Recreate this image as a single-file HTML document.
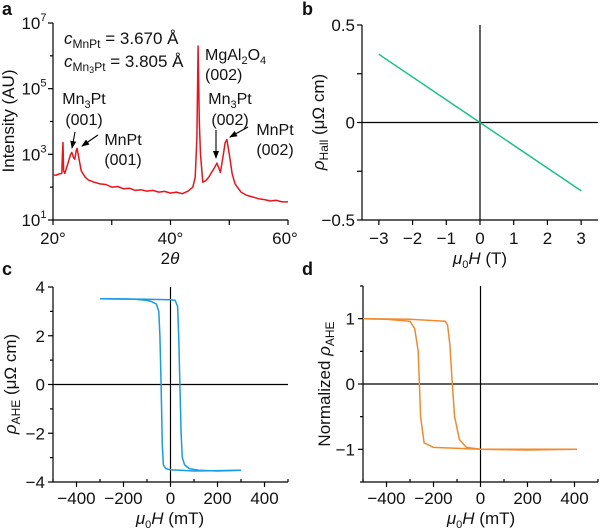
<!DOCTYPE html>
<html><head><meta charset="utf-8"><style>
body{margin:0;background:#fff;}
svg{display:block;font-family:"Liberation Sans",Arial,sans-serif;}
</style></head><body>
<svg id="fig" width="600" height="530" viewBox="0 0 600 530"></svg>
<script>
// Panel a data (2theta, log10 intensity)
const xrdAngle=[20,20.5,21,21.5,21.6,21.7,21.8,22,22.5,23,23.2,23.5,23.7,24,24.1,24.4,24.8,25.5,26,27,28,29,30,31,32,33,34,35,36,37,38,39,40,41,42,43,43.8,44.2,44.5,44.7,44.9,45.1,45.5,46,46.5,47,47.5,47.9,48.2,48.5,49,49.3,49.6,50,50.5,51,52,53,54,55,56,57,58,59,60];
const xrdLog=[2.38,2.36,2.4,2.42,3.0,3.36,2.5,2.42,2.7,3.0,3.06,2.9,2.85,3.15,3.18,2.9,2.5,2.3,2.22,2.15,2.1,2.08,2.0,2.02,1.95,1.97,1.9,1.92,1.88,1.9,1.85,1.87,1.82,1.85,1.8,1.88,2.0,2.3,3.5,6.3,4.0,3.0,2.15,2.2,2.3,2.45,2.6,2.73,2.6,2.45,3.0,3.35,3.45,3.0,2.4,2.1,1.85,1.75,1.7,1.65,1.62,1.58,1.6,1.55,1.55];
// Panel b
const hallH=[-3,3];
const hallRho=[0.35,-0.35];
// Panel c
const cUpH=[-300,-100,0,20,30,35,40,45,50,60,80,120,200,300];
const cUpR=[3.52,3.5,3.48,3.45,3.2,2,0,-2,-3,-3.3,-3.45,-3.52,-3.55,-3.52];
const cDnH=[300,100,0,-20,-30,-35,-40,-45,-50,-60,-80,-100,-150,-300];
const cDnR=[-3.52,-3.55,-3.5,-3.45,-3.3,-2.5,0,2,3,3.3,3.4,3.45,3.5,3.52];
// Panel d
const dUpH=[-500,-300,-150,-140,-130,-120,-110,-90,-60,0,200,410];
const dUpR=[1,0.99,0.96,0.9,0.6,0,-0.5,-0.85,-0.97,-1,-1.01,-1];
const dDnH=[410,0,-200,-240,-255,-260,-265,-280,-300,-400,-500];
const dDnR=[-1,-1,-0.97,-0.9,-0.5,0,0.5,0.85,0.96,0.99,1];

const S="http://www.w3.org/2000/svg",svg=document.getElementById('fig');
function el(t,a,p){const e=document.createElementNS(S,t);for(const k in a)e.setAttribute(k,a[k]);(p||svg).appendChild(e);return e;}
function lin(d0,d1,r0,r1){return v=>r0+(v-d0)/(d1-d0)*(r1-r0);}
function txt(x,y,s,anchor,size,name,extra){const t=el('text',Object.assign({x:x,y:y,'text-anchor':anchor||'middle','font-size':size||17,fill:'#111'},extra||{}));t.innerHTML=s;return t;}
function line(x1,y1,x2,y2,name,w){const l=el('line',{x1:x1,y1:y1,x2:x2,y2:y2,stroke:'#000','stroke-width':w||1.2});return l;}
function path(xs,ys,fx,fy,col,name){let d='';for(let i=0;i<xs.length;i++)d+=(i?'L':'M')+fx(xs[i]).toFixed(1)+','+fy(ys[i]).toFixed(1);const p=el('path',{d:d,fill:'none',stroke:col,'stroke-width':1.5,'stroke-linejoin':'round'});return p;}
const TS=17;

// ---------- Panel a ----------
const ax=lin(20,60,53,288), ay=lin(1,7,220,23);
txt(2,15,'a','start',18,'panel-a-label',{'font-weight':'bold'});
line(53,23,53,220,'a-y-axis');line(53,220,288,220,'a-x-axis');
[1,2,3,4,5,6,7].forEach(v=>{line(53,ay(v),v%2?48:50,ay(v),'a-y-tick');});
[1,3,5,7].forEach(v=>{txt(34,ay(v)+6,'10<tspan font-size="11" dy="-8">'+v+'</tspan>','middle',TS,'a-y-tick-label');});
[20,30,40,50,60].forEach(v=>{line(ax(v),220,ax(v),225,'a-x-tick');});
[20,40,60].forEach(v=>{txt(ax(v)+(v==60?-3:0),244,v+'°','middle',TS,'a-x-tick-label');});
txt(170,264,'2<tspan font-style="italic">θ</tspan>','middle',TS,'a-x-axis-title');
txt(14,121,'Intensity (AU)','middle',TS,'a-y-axis-title',{transform:'rotate(-90 14 121)'});
path(xrdAngle,xrdLog,ax,ay,'#e8141c','xrd-series');
txt(64,44,'<tspan font-style="italic">c</tspan><tspan font-size="12" dy="4">MnPt</tspan><tspan dy="-4"> = 3.670 Å</tspan>','start',17,'lattice-mnpt');
txt(64,67,'<tspan font-style="italic">c</tspan><tspan font-size="12" dy="4">Mn</tspan><tspan font-size="9" dy="2">3</tspan><tspan font-size="12" dy="-2">Pt</tspan><tspan dy="-4"> = 3.805 Å</tspan>','start',17,'lattice-mn3pt');
txt(205,60,'MgAl<tspan font-size="11" dy="4">2</tspan><tspan dy="-4">O</tspan><tspan font-size="11" dy="4">4</tspan>','start',16,'label-mgal2o4');
txt(205,80,'(002)','start',16,'label-mgal2o4-002');
txt(84,104,'Mn<tspan font-size="11" dy="4">3</tspan><tspan dy="-4">Pt</tspan>','middle',16,'label-mn3pt-001');
txt(84,125,'(001)','middle',16,'label-mn3pt-001-idx');
txt(123,145,'MnPt','middle',16,'label-mnpt-001');
txt(123,165,'(001)','middle',16,'label-mnpt-001-idx');
txt(230,104,'Mn<tspan font-size="11" dy="4">3</tspan><tspan dy="-4">Pt</tspan>','middle',16,'label-mn3pt-002');
txt(230,125,'(002)','middle',16,'label-mn3pt-002-idx');
txt(275,135,'MnPt','middle',16,'label-mnpt-002');
txt(275,155,'(002)','middle',16,'label-mnpt-002-idx');
const defs=el('defs',{});const m=el('marker',{id:'ar',markerWidth:8,markerHeight:8,refX:7,refY:4,orient:'auto',markerUnits:'userSpaceOnUse'},defs);el('path',{d:'M0,1L8,4L0,7z',fill:'#000'},m);
[[75,132,72,148],[98,135,82,146],[216,130,216,158],[248,127,230,137]].forEach(a=>{const l=line(a[0],a[1],a[2],a[3],'peak-arrow',1.1);l.setAttribute('marker-end','url(#ar)');});

// ---------- Panel b ----------
const bx=lin(-3.5,3.5,362,598), by=lin(-0.5,0.5,220,25);
txt(302,15,'b','start',18,'panel-b-label',{'font-weight':'bold'});
line(362,25,362,220,'b-y-axis');line(362,220,598,220,'b-x-axis');
line(bx(0),25,bx(0),220,'b-zero-vertical');line(362,by(0),598,by(0),'b-zero-horizontal');
[-0.5,-0.25,0,0.25,0.5].forEach(v=>line(357,by(v),362,by(v),'b-y-tick'));
[[0.5,'0.5'],[0,'0'],[-0.5,'−0.5']].forEach(v=>txt(355,by(v[0])+6,v[1],'end',TS,'b-y-tick-label'));
[-3,-2,-1,0,1,2,3].forEach(v=>{line(bx(v),220,bx(v),225,'b-x-tick');txt(bx(v),244,(v<0?'−':'')+Math.abs(v),'middle',TS,'b-x-tick-label');});
txt(480,264,'<tspan font-style="italic">μ</tspan><tspan font-size="11" dy="4">0</tspan><tspan dy="-4" font-style="italic">H</tspan> (T)','middle',TS,'b-x-axis-title');
txt(324,122,'<tspan font-style="italic">ρ</tspan><tspan font-size="12" dy="4">Hall</tspan><tspan dy="-4"> (μΩ cm)</tspan>','middle',TS,'b-y-axis-title',{transform:'rotate(-90 324 122)'});
path(hallH,hallRho,bx,by,'#1dbf8a','hall-series');

// ---------- Panel c ----------
const cx=lin(-500,500,53,288), cy=lin(-4,4,482,287);
txt(2,275,'c','start',18,'panel-c-label',{'font-weight':'bold'});
line(53,287,53,482,'c-y-axis');line(53,482,288,482,'c-x-axis');
line(cx(0),287,cx(0),482,'c-zero-vertical');line(53,cy(0),288,cy(0),'c-zero-horizontal');
[-4,-3,-2,-1,0,1,2,3,4].forEach(v=>line(v%2?50:48,cy(v),53,cy(v),'c-y-tick'));
[4,2,0,-2,-4].forEach(v=>txt(45,cy(v)+6,(v<0?'−':'')+Math.abs(v),'end',TS,'c-y-tick-label'));
[-500,-400,-300,-200,-100,0,100,200,300,400,500].forEach(v=>line(cx(v),482,cx(v),v%200?479:487,'c-x-tick'));
[-400,-200,0,200,400].forEach(v=>txt(cx(v),504,(v<0?'−':'')+Math.abs(v),'middle',TS,'c-x-tick-label'));
txt(170,524,'<tspan font-style="italic">μ</tspan><tspan font-size="11" dy="4">0</tspan><tspan dy="-4" font-style="italic">H</tspan> (mT)','middle',TS,'c-x-axis-title');
txt(16,384,'<tspan font-style="italic">ρ</tspan><tspan font-size="12" dy="4">AHE</tspan><tspan dy="-4"> (μΩ cm)</tspan>','middle',TS,'c-y-axis-title',{transform:'rotate(-90 16 384)'});
path(cUpH,cUpR,cx,cy,'#1a9be0','c-branch-up');
path(cDnH,cDnR,cx,cy,'#1a9be0','c-branch-down');

// ---------- Panel d ----------
const dx=lin(-500,500,363,598), dy=lin(-1.5,1.5,482,286);
txt(302,275,'d','start',18,'panel-d-label',{'font-weight':'bold'});
line(363,286,363,482,'d-y-axis');line(363,482,598,482,'d-x-axis');
line(dx(0),286,dx(0),482,'d-zero-vertical');line(363,dy(0),598,dy(0),'d-zero-horizontal');
[-1.5,-1,-0.5,0,0.5,1,1.5].forEach(v=>line(v%1?360:358,dy(v),363,dy(v),'d-y-tick'));
[1,0,-1].forEach(v=>txt(355,dy(v)+6,(v<0?'−':'')+Math.abs(v),'end',TS,'d-y-tick-label'));
[-500,-400,-300,-200,-100,0,100,200,300,400,500].forEach(v=>line(dx(v),482,dx(v),v%200?479:487,'d-x-tick'));
[-400,-200,0,200,400].forEach(v=>txt(dx(v),504,(v<0?'−':'')+Math.abs(v),'middle',TS,'d-x-tick-label'));
txt(481,524,'<tspan font-style="italic">μ</tspan><tspan font-size="11" dy="4">0</tspan><tspan dy="-4" font-style="italic">H</tspan> (mT)','middle',TS,'d-x-axis-title');
txt(330,384,'Normalized <tspan font-style="italic">ρ</tspan><tspan font-size="12" dy="4">AHE</tspan>','middle',TS,'d-y-axis-title',{transform:'rotate(-90 330 384)'});
path(dUpH,dUpR,dx,dy,'#f08a2c','d-branch-up');
path(dDnH,dDnR,dx,dy,'#f08a2c','d-branch-down');
</script>
</body></html>
